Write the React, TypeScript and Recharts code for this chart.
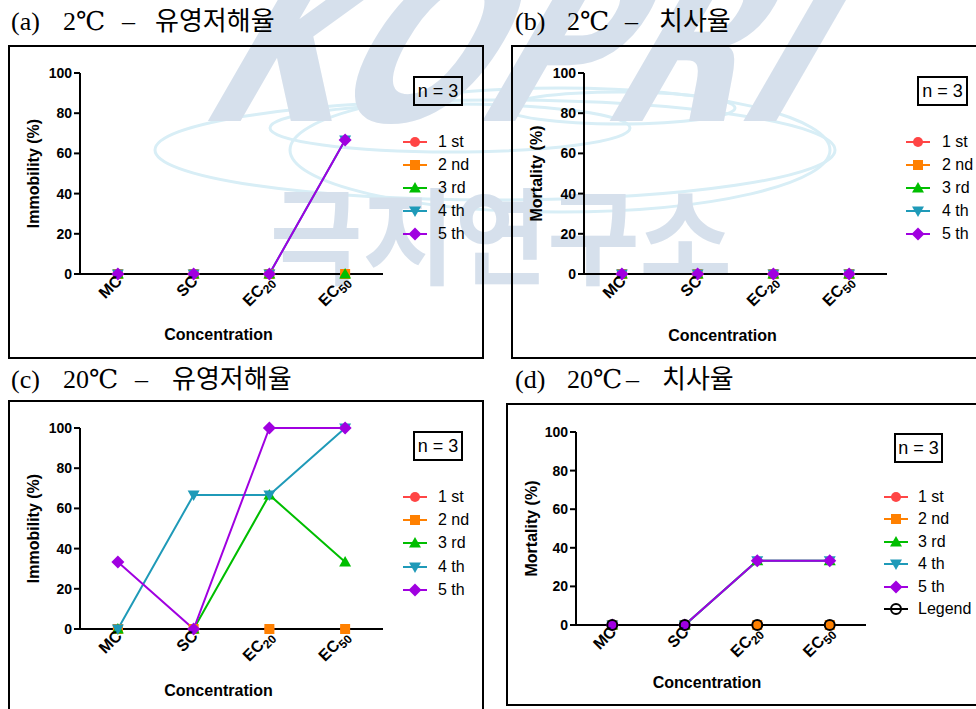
import React from 'react';
import { LineChart, Line, XAxis, YAxis } from 'recharts';

// x categories and axis ticks
const concentrations = ['MC', 'SC', 'EC20', 'EC50'];
const percentTicks = [0, 20, 40, 60, 80, 100];

const roundNames = ['1 st', '2 nd', '3 rd', '4 th', '5 th'];
const roundColors = ['#FF4545', '#FF8000', '#00BE00', '#1F9AB8', '#A000E0'];
const roundShapes = ['circle', 'square', 'triangle', 'triangleDown', 'diamond'];

// (a) 2°C immobility, one row per round
const immobility2C = [
  [0, 0, 0, 0],
  [0, 0, 0, 0],
  [0, 0, 0, 0],
  [0, 0, 0, 66.7],
  [0, 0, 0, 66.7],
];

// (b) 2°C mortality
const mortality2C = [
  [0, 0, 0, 0],
  [0, 0, 0, 0],
  [0, 0, 0, 0],
  [0, 0, 0, 0],
  [0, 0, 0, 0],
];

// (c) 20°C immobility
const immobility20C = [
  [0, 0, 0, 0],
  [0, 0, 0, 0],
  [0, 0, 66.7, 33.3],
  [0, 66.7, 66.7, 100],
  [33.3, 0, 100, 100],
];

// (d) 20°C mortality (+ the stray "Legend" series)
const mortality20C = [
  [0, 0, 0, 0],
  [0, 0, 0, 0],
  [0, 0, 33.3, 33.3],
  [0, 0, 33.3, 33.3],
  [0, 0, 33.3, 33.3],
  [0, 0, 0, 0],
];

const SANS = "'Liberation Sans', Arial, sans-serif";
const SERIF = "'Liberation Serif', 'DejaVu Serif', 'Noto Sans CJK KR', serif";

function Marker({ shape, cx, cy, color }: any) {
  if (cx == null || cy == null) return null;
  switch (shape) {
    case 'circle':
      return <circle cx={cx} cy={cy} r={5} fill={color} />;
    case 'square':
      return <rect x={cx - 5} y={cy - 5} width={10} height={10} fill={color} />;
    case 'triangle':
      return <polygon points={`${cx},${cy - 6} ${cx + 6},${cy + 4.5} ${cx - 6},${cy + 4.5}`} fill={color} />;
    case 'triangleDown':
      return <polygon points={`${cx},${cy + 6} ${cx + 6},${cy - 4.5} ${cx - 6},${cy - 4.5}`} fill={color} />;
    case 'diamond':
      return <polygon points={`${cx},${cy - 6.5} ${cx + 6.5},${cy} ${cx},${cy + 6.5} ${cx - 6.5},${cy}`} fill={color} />;
    default:
      return <circle cx={cx} cy={cy} r={5} fill="none" stroke={color} strokeWidth={2} />;
  }
}

const ConcTick = (props: any) => {
  const { x, y, payload } = props;
  const m = /^(EC)(\d+)$/.exec(payload.value);
  return (
    <g transform={`translate(${x + 5},${y + 3}) rotate(-45)`}>
      <text textAnchor="end" fontFamily={SANS} fontSize={16} fontWeight={700} fill="#000">
        {m ? (
          <>
            {m[1]}
            <tspan dy={4} fontSize={12}>{m[2]}</tspan>
          </>
        ) : (
          payload.value
        )}
      </text>
    </g>
  );
};

function Title({ parts, y }: any) {
  return (
    <>
      {parts.map((p: any, i: number) => (
        <div
          key={i}
          style={{ position: 'absolute', left: p.x, top: y - 14, fontFamily: SERIF, fontSize: 26, lineHeight: '28px', whiteSpace: 'pre', color: '#000' }}
        >
          {p.t}
        </div>
      ))}
    </>
  );
}

function Panel({ cfg }: any) {
  const names = cfg.values.length > 5 ? [...roundNames, 'Legend'] : roundNames;
  const colors = [...roundColors, '#000'];
  const shapes = [...roundShapes, 'ring'];
  const data = concentrations.map((c, i) => {
    const row: any = { c };
    cfg.values.forEach((s: number[], k: number) => (row['s' + k] = s[i]));
    return row;
  });
  const [cl, ct, cw, ch] = cfg.chart;
  const [fl, ft, fw, fh] = cfg.frame;
  const [nl, nt, nw, nh] = cfg.nBox;
  const pad = (cw - cfg.yAxisWidth - cfg.right) / 8;
  return (
    <>
      <div style={{ position: 'absolute', left: fl, top: ft, width: fw, height: fh, border: '2px solid #000', boxSizing: 'border-box' }} />
      <div style={{ position: 'absolute', left: cl, top: ct }}>
        <LineChart width={cw} height={ch} data={data} margin={{ top: cfg.plotTop, right: cfg.right, left: 0, bottom: 0 }}>
          <XAxis
            dataKey="c"
            interval={0}
            padding={{ left: pad, right: pad }}
            height={cfg.xAxisHeight}
            tickSize={3}
            axisLine={{ stroke: '#000', strokeWidth: 2 }}
            tickLine={{ stroke: '#000', strokeWidth: 1.5 }}
            tick={<ConcTick />}
            label={{ value: 'Concentration', position: 'insideBottom', offset: cfg.xLabelOffset, dx: cfg.xLabelDx, fontFamily: SANS, fontSize: 16, fontWeight: 700, fill: '#000' }}
          />
          <YAxis
            domain={[0, 100]}
            ticks={percentTicks}
            interval={0}
            width={cfg.yAxisWidth}
            tickSize={6}
            axisLine={{ stroke: '#000', strokeWidth: 2 }}
            tickLine={{ stroke: '#000', strokeWidth: 2 }}
            tick={{ fontFamily: SANS, fontSize: 14, fontWeight: 700, fill: '#000' }}
            label={{ value: cfg.yLabel, angle: -90, position: 'insideLeft', offset: 25, style: { textAnchor: 'middle' }, fontFamily: SANS, fontSize: 16, fontWeight: 700, fill: '#000' }}
          />
          {cfg.values.map((_: number[], k: number) => (
            <Line
              key={k}
              type="linear"
              dataKey={'s' + k}
              stroke={colors[k]}
              strokeWidth={2}
              isAnimationActive={false}
              dot={(p: any) => <Marker key={`m${k}-${p.index}`} shape={shapes[k]} cx={p.cx} cy={p.cy} color={colors[k]} />}
              activeDot={false}
            />
          ))}
        </LineChart>
      </div>
      <div style={{ position: 'absolute', left: nl, top: nt, width: nw, height: nh, border: '2px solid #000', boxSizing: 'border-box', fontFamily: SANS, fontSize: 18, display: 'flex', alignItems: 'center', justifyContent: 'center' }}>
        n = 3
      </div>
      {names.map((n: string, i: number) => (
        <div key={n} style={{ position: 'absolute', left: cfg.legendX - 13, top: cfg.legendY + i * cfg.legendStep - 8, height: 16, display: 'flex', alignItems: 'center' }}>
          <svg width={26} height={16}>
            <line x1={1} x2={25} y1={8} y2={8} stroke={colors[i]} strokeWidth={2} />
            <Marker shape={shapes[i]} cx={13} cy={8} color={colors[i]} />
          </svg>
          <span style={{ marginLeft: cfg.legendTextX - cfg.legendX - 13, fontFamily: SANS, fontSize: 16, lineHeight: '16px' }}>{n}</span>
        </div>
      ))}
    </>
  );
}

const panelA = {
  frame: [8, 45, 476, 314], chart: [8, 46, 475, 312], plotTop: 27, right: 100, yAxisWidth: 72, xAxisHeight: 84,
  xLabelOffset: 18, xLabelDx: -13, yLabel: 'Immobility (%)', values: immobility2C,
  nBox: [413, 76, 50, 30], legendX: 414.5, legendTextX: 438, legendY: 142, legendStep: 23,
};
const panelB = {
  frame: [511, 45, 500, 314], chart: [511, 46, 465, 312], plotTop: 27, right: 89, yAxisWidth: 73, xAxisHeight: 84,
  xLabelOffset: 17, xLabelDx: -13, yLabel: 'Mortality (%)', values: mortality2C,
  nBox: [917, 76, 51, 30], legendX: 918, legendTextX: 942, legendY: 142, legendStep: 23,
};
const panelC = {
  frame: [8, 400, 476, 330], chart: [8, 401, 475, 308], plotTop: 27, right: 100, yAxisWidth: 72, xAxisHeight: 80,
  xLabelOffset: 13, xLabelDx: -13, yLabel: 'Immobility (%)', values: immobility20C,
  nBox: [413, 431, 50, 30], legendX: 414.5, legendTextX: 438, legendY: 497, legendStep: 23.2,
};
const panelD = {
  frame: [506, 403, 500, 303], chart: [506, 404, 470, 301], plotTop: 28, right: 110, yAxisWidth: 70, xAxisHeight: 80,
  xLabelOffset: 17, xLabelDx: -14, yLabel: 'Mortality (%)', values: mortality20C,
  nBox: [894, 433, 49, 30], legendX: 896, legendTextX: 918, legendY: 497, legendStep: 22.4,
};

function Watermark() {
  return (
    <svg width={976} height={709} style={{ position: 'absolute', left: 0, top: 0 }}>
      <g fill="none" stroke="#d8eef6" strokeWidth={3}>
        <ellipse cx={495} cy={150} rx={340} ry={50} />
        <ellipse cx={450} cy={128} rx={180} ry={24} />
        <ellipse cx={620} cy={108} rx={115} ry={16} />
        <ellipse cx={560} cy={150} rx={270} ry={62} />
      </g>
      <g transform="translate(192,121) skewX(-30)">
        <text x={0} y={0} fontFamily="'DejaVu Sans'" fontWeight={700} fontSize={220} fill="#d6e0ec" textLength={600} lengthAdjust="spacingAndGlyphs">
          KOPRI
        </text>
      </g>
      <text x={270} y={276} fontFamily="'Noto Sans CJK KR'" fontWeight={700} fontSize={105} fill="#d6e0ec" textLength={462} lengthAdjust="spacingAndGlyphs">
        극지연구소
      </text>
    </svg>
  );
}

export default function App() {
  return (
    <div style={{ position: 'fixed', left: 0, top: 0, width: 976, height: 709, overflow: 'hidden', background: '#fff' }}>
      <Watermark />
      <Title y={22} parts={[{ t: '(a)', x: 11 }, { t: '2℃', x: 63 }, { t: '–', x: 122 }, { t: '유영저해율', x: 155 }]} />
      <Title y={22} parts={[{ t: '(b)', x: 515 }, { t: '2℃', x: 567 }, { t: '–', x: 625 }, { t: '치사율', x: 659 }]} />
      <Title y={380} parts={[{ t: '(c)', x: 11 }, { t: '20℃', x: 63 }, { t: '–', x: 135 }, { t: '유영저해율', x: 172 }]} />
      <Title y={380} parts={[{ t: '(d)', x: 515 }, { t: '20℃', x: 567 }, { t: '–', x: 626 }, { t: '치사율', x: 662 }]} />
      <Panel cfg={panelA} />
      <Panel cfg={panelB} />
      <Panel cfg={panelC} />
      <Panel cfg={panelD} />
    </div>
  );
}
